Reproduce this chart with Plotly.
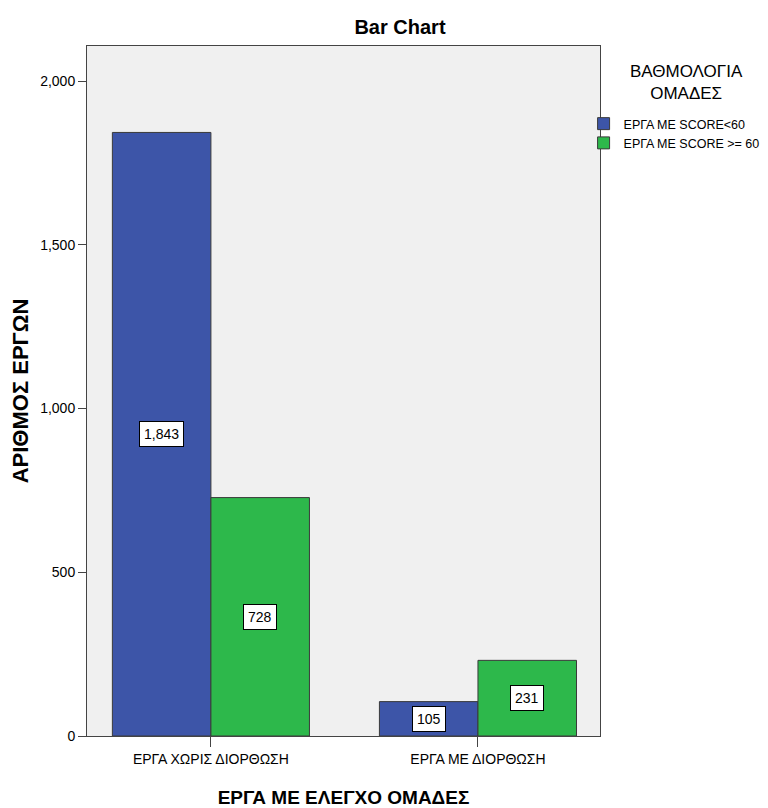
import plotly.graph_objects as go

categories = ["ΕΡΓΑ ΧΩΡΙΣ ΔΙΟΡΘΩΣΗ", "ΕΡΓΑ ΜΕ ΔΙΟΡΘΩΣΗ"]
series_names = ["ΕΡΓΑ ΜΕ SCORE<60", "ΕΡΓΑ ΜΕ SCORE >= 60"]
low_scores = [1843, 105]
high_scores = [728, 231]
y_tickvals = [0, 500, 1000, 1500, 2000]
y_ticktext = ["0", "500", "1,000", "1,500", "2,000"]
legend_title = "ΒΑΘΜΟΛΟΓΙΑ<br>ΟΜΑΔΕΣ"

colors = ["#3D55A8", "#2DB84B"]
font = "Liberation Sans, Arial, sans-serif"

# the page body adds an 8px margin, so the figure is 8px smaller than the window
W, H = 760, 800
L, R, T, B = 79, 168, 38, 72
PW, PH = W - L - R, H - T - B

bargap = 0.262
bar_w = (1 - bargap) / 2

fig = go.Figure()
for name, vals, col in zip(series_names, [low_scores, high_scores], colors):
    fig.add_trace(go.Bar(
        name=name, x=categories, y=vals,
        marker=dict(color=col, line=dict(color="#3a3a3a", width=1)),
    ))

annotations = []
for s, vals in enumerate([low_scores, high_scores]):
    off = -bar_w / 2 if s == 0 else bar_w / 2
    for i, v in enumerate(vals):
        annotations.append(dict(
            x=i + off, y=v / 2, xref="x", yref="y",
            text=f"{v:,}", showarrow=False,
            font=dict(family=font, size=14, color="black"),
            bgcolor="white", bordercolor="black", borderwidth=1, borderpad=4,
        ))

# legend title (placed as text above the legend entries)
annotations.append(dict(
    x=(678 - L) / PW, y=(H - B - 74) / PH,
    xref="paper", yref="paper", xanchor="center", yanchor="middle",
    text=legend_title, showarrow=False, align="center",
    font=dict(family=font, size=17, color="black"),
))

fig.update_layout(
    width=W, height=H,
    margin=dict(l=L, r=R, t=T, b=B, autoexpand=False),
    paper_bgcolor="white", plot_bgcolor="#F0F0F0",
    barmode="group", bargap=bargap, bargroupgap=0,
    title=dict(text="<b>Bar Chart</b>", x=392 / W, xanchor="center",
               y=1 - 19 / H, yanchor="middle",
               font=dict(family=font, size=20, color="black")),
    annotations=annotations,
    legend=dict(
        x=0.968, xanchor="left", y=(H - B - 101) / PH, yanchor="top",
        font=dict(family=font, size=12.5, color="black"),
        bgcolor="rgba(0,0,0,0)",
    ),
    showlegend=True,
)

fig.update_xaxes(
    type="category", range=[-0.464, 1.457], automargin=False,
    showline=True, linecolor="#444444", linewidth=1, mirror=True,
    ticks="outside", ticklen=10, tickcolor="#444444",
    tickfont=dict(family=font, size=14, color="black"),
    title=dict(text="<b>ΕΡΓΑ ΜΕ ΕΛΕΓΧΟ ΟΜΑΔΕΣ</b>", standoff=26,
               font=dict(family=font, size=19, color="black")),
    showgrid=False,
)
fig.update_yaxes(
    range=[0, 2107], tickvals=y_tickvals, ticktext=y_ticktext, automargin=False,
    showline=True, linecolor="#444444", linewidth=1, mirror=True,
    ticks="outside", ticklen=8, tickcolor="#444444",
    tickfont=dict(family=font, size=14, color="black"),
    title=dict(text="<b>ΑΡΙΘΜΟΣ ΕΡΓΩΝ</b>", standoff=6,
               font=dict(family=font, size=22, color="black")),
    showgrid=False, zeroline=False,
)

fig.write_html("out.html")
